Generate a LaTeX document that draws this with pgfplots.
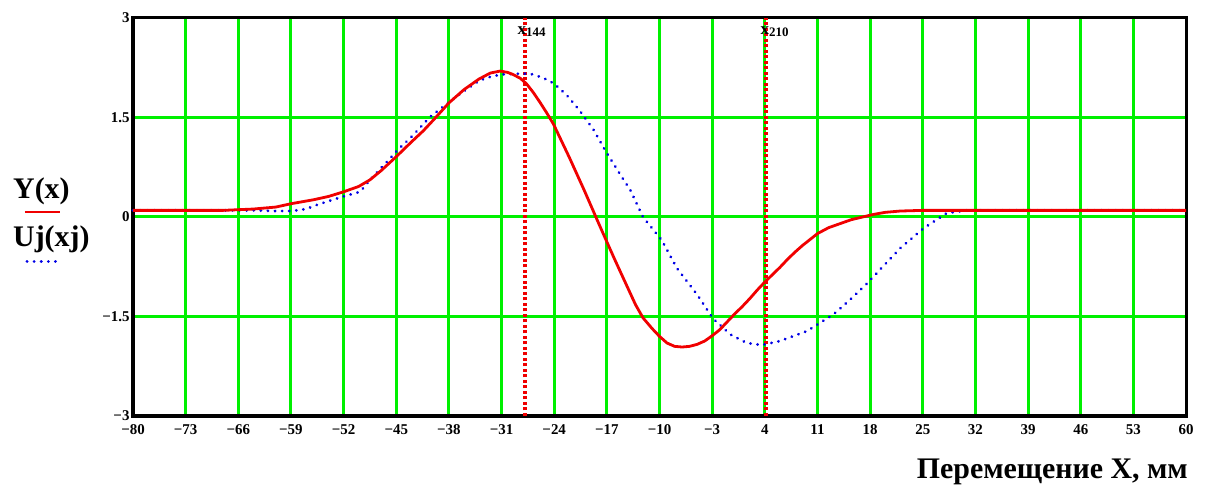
\documentclass[border=0pt]{standalone}
\usepackage{fontspec}
\setmainfont{Liberation Serif}
\usepackage{pgfplots}
\pgfplotsset{compat=1.18}
\definecolor{grn}{RGB}{0,240,0}
\definecolor{rd}{RGB}{240,0,0}
\definecolor{bl}{RGB}{0,0,230}
\pgfplotstableread{
x y
-80 0.1
-68 0.1
-64 0.12
-61 0.15
-59 0.2
-56 0.26
-54 0.31
-52 0.38
-50 0.46
-48.5 0.56
-47 0.7
-45 0.91
-43 1.13
-41.4 1.3
-40 1.47
-38 1.72
-36 1.92
-34 2.08
-32.5 2.17
-31.2 2.2
-30.2 2.18
-29.5 2.15
-28.5 2.09
-27.7 2.01
-26.8 1.88
-25.9 1.73
-25 1.57
-24.1 1.4
-22 0.9
-20 0.4
-18 -0.12
-16 -0.63
-14.5 -1.0
-13.2 -1.32
-12.2 -1.52
-11 -1.68
-10 -1.8
-9 -1.9
-8 -1.95
-7 -1.96
-6 -1.95
-5 -1.92
-4 -1.87
-3 -1.79
-2 -1.7
-1 -1.58
0 -1.46
1 -1.35
2 -1.23
3 -1.1
4 -0.98
5 -0.87
6 -0.76
7 -0.64
8 -0.53
9 -0.43
10 -0.34
11 -0.25
12.5 -0.16
14 -0.1
15.5 -0.04
17 0.0
18.5 0.04
20 0.07
22 0.09
25 0.1
60 0.1
}\Ydata
\pgfplotstableread{
x y
-80 0.1
-64 0.1
-61 0.09
-58.9 0.09
-57 0.12
-55.6 0.18
-54 0.24
-52 0.31
-49.8 0.38
-48.5 0.56
-46.5 0.8
-44.9 1.0
-42.8 1.23
-40.5 1.51
-38 1.73
-36 1.9
-33.9 2.06
-32.3 2.12
-30.8 2.15
-29 2.16
-27.2 2.16
-25.5 2.1
-24.0 2.01
-22.2 1.82
-20.6 1.6
-18.8 1.32
-17.2 1.0
-15.0 0.6
-13.9 0.41
-12.2 0.0
-9.7 -0.35
-7.7 -0.77
-5.0 -1.17
-2.9 -1.53
-0.6 -1.77
1.6 -1.9
3.6 -1.93
6.0 -1.87
9.6 -1.72
13.1 -1.47
15.4 -1.24
17.6 -1.0
20.0 -0.71
22.0 -0.47
25.1 -0.17
28.2 0.06
30.9 0.1
60 0.1
}\Udata
\begin{document}
\begin{tikzpicture}
\useasboundingbox (-133bp,-73bp) rectangle (1075bp,416bp);
\begin{axis}[
  at={(0,0)}, anchor=south west,
  width=1053bp, height=398bp, scale only axis,
  xmin=-80, xmax=60, ymin=-3, ymax=3,
  xtick={-80,-73,-66,-59,-52,-45,-38,-31,-24,-17,-10,-3,4,11,18,25,32,39,46,53,60},
  xticklabels={−80,−73,−66,−59,−52,−45,−38,−31,−24,−17,−10,−3,4,11,18,25,32,39,46,53,60},
  ytick={-3,-1.5,0,1.5,3},
  yticklabels={−3,−1.5,0,1.5,3},
  grid=major,
  major grid style={grn, line width=3bp},
  major tick length=0pt,
  axis line style={black, line width=3bp},
  ticklabel style={font=\bfseries\fontsize{15}{15}\selectfont},
  xticklabel style={yshift=-5bp},
  clip=false,
]
\addplot[rd, line width=3.5bp, dash pattern=on 3bp off 2.5bp] coordinates {(-27.9,-3) (-27.9,3)};
\addplot[rd, line width=3.5bp, dash pattern=on 3bp off 2.5bp] coordinates {(4.15,-3) (4.15,3)};
\addplot[bl, line width=3bp, line cap=round, dash pattern=on 0.1bp off 7bp] table {\Udata};
\addplot[rd, line width=2.8bp, line join=round] table {\Ydata};
\node[font=\bfseries\fontsize{17}{17}\selectfont, inner sep=0pt] at (axis cs:-27.0,2.8) {x\raisebox{-2bp}{\fontsize{13}{13}\selectfont 144}};
\node[font=\bfseries\fontsize{17}{17}\selectfont, inner sep=0pt] at (axis cs:5.3,2.8) {x\raisebox{-2bp}{\fontsize{13}{13}\selectfont 210}};
\end{axis}
\node[anchor=base west, inner sep=0pt, font=\bfseries\fontsize{30}{30}\selectfont] at (-120bp,217bp) {Y(x)};
\draw[rd, line width=2.8bp] (-108bp,204bp) -- (-73bp,204bp);
\node[anchor=base west, inner sep=0pt, font=\bfseries\fontsize{30}{30}\selectfont] at (-120bp,169bp) {Uj(xj)};
\draw[bl, line width=3bp, line cap=round, dash pattern=on 0.1bp off 7bp] (-106bp,154bp) -- (-76bp,154bp);
\node[anchor=base east, inner sep=0pt, font=\bfseries\fontsize{30}{30}\selectfont] at (1055bp,-62bp) {Перемещение X, мм};
\end{tikzpicture}
\end{document}
